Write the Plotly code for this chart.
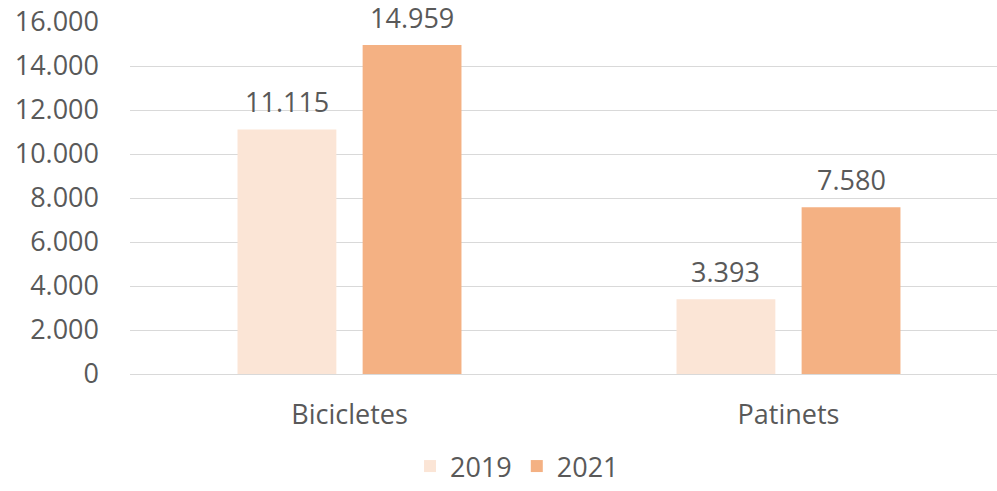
import plotly.graph_objects as go

categories = ["Bicicletes", "Patinets"]
years = ["2019", "2021"]
values_2019 = [11115, 3393]
values_2021 = [14959, 7580]
y_ticks = [0, 2000, 4000, 6000, 8000, 10000, 12000, 14000, 16000]

colors = {"2019": "#FBE5D6", "2021": "#F4B183"}
series = {"2019": values_2019, "2021": values_2021}

font_family = "Open Sans, Liberation Sans, sans-serif"
text_color = "#595959"
fs = 27

W, H = 997, 491
ml, mr, mt, mb = 130, 0, 22, 117
x_range = [-0.5, 1.475]
bargap = 0.43
px_per_unit = (W - ml - mr) / (x_range[1] - x_range[0])
offset_px = (1 - bargap) / 4 * px_per_unit

fig = go.Figure()
for i, yr in enumerate(years):
    fig.add_trace(go.Bar(
        x=categories, y=series[yr], name=yr,
        marker=dict(color=colors[yr], line=dict(width=0)),
    ))
    sign = -1 if i == 0 else 1
    for c, v in zip(categories, series[yr]):
        fig.add_annotation(
            x=c, y=v, text=f"{v:,}".replace(",", "."), showarrow=False,
            xanchor="center", yanchor="bottom", xshift=sign * offset_px, yshift=7,
            font=dict(size=fs, color=text_color, family=font_family),
        )

fig.update_layout(
    width=W, height=H,
    margin=dict(l=ml, r=mr, t=mt, b=mb, autoexpand=False),
    paper_bgcolor="white", plot_bgcolor="white",
    separators=",.",
    barmode="group", bargap=bargap, bargroupgap=0.21,
    font=dict(family=font_family, color=text_color, size=fs),
    showlegend=True,
    legend=dict(orientation="h", x=0.4464, xanchor="center",
                yref="container", y=-0.012, yanchor="bottom",
                font=dict(size=fs, color=text_color), traceorder="normal"),
    xaxis=dict(range=x_range, showgrid=False, showline=False, ticks="",
               ticklabelstandoff=22, tickfont=dict(size=fs, color=text_color)),
    yaxis=dict(range=[0, 16000], tickvals=y_ticks, tickformat=",d",
               showgrid=True, gridcolor="#D9D9D9", gridwidth=1,
               zeroline=True, zerolinecolor="#D9D9D9", zerolinewidth=1,
               showline=False, ticks="", ticklabelstandoff=30,
               tickfont=dict(size=fs, color=text_color)),
)

fig.write_html("out.html", config={"displayModeBar": False},
               post_script="document.body.style.margin='0';document.body.style.overflow='hidden';")
